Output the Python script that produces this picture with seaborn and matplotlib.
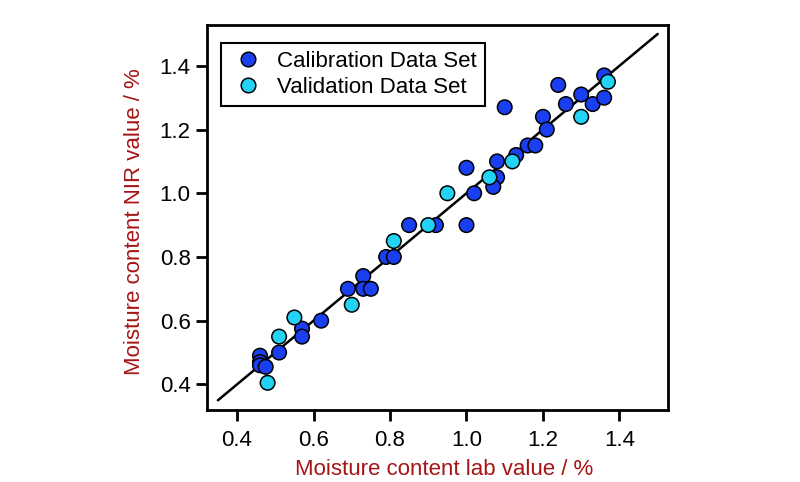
import matplotlib
matplotlib.use("Agg")
import matplotlib.pyplot as plt
import seaborn as sns
import pandas as pd

# Calibration data set
cal_lab = [1.36, 1.24, 1.30, 1.26, 1.33, 1.36, 1.10, 1.20, 1.21, 1.16, 1.18, 1.13,
           1.08, 1.00, 1.08, 1.07, 1.02, 0.85, 0.92, 1.00, 0.79, 0.81, 0.73, 0.69,
           0.73, 0.75, 0.62, 0.57, 0.57, 0.51, 0.46, 0.46, 0.46, 0.475]
cal_nir = [1.37, 1.34, 1.31, 1.28, 1.28, 1.30, 1.27, 1.24, 1.20, 1.15, 1.15, 1.12,
           1.10, 1.08, 1.05, 1.02, 1.00, 0.90, 0.90, 0.90, 0.80, 0.80, 0.74, 0.70,
           0.70, 0.70, 0.60, 0.575, 0.55, 0.50, 0.49, 0.47, 0.46, 0.455]
# Validation data set
val_lab = [1.37, 1.30, 1.12, 1.06, 0.95, 0.90, 0.81, 0.70, 0.55, 0.51, 0.48]
val_nir = [1.35, 1.24, 1.10, 1.05, 1.00, 0.90, 0.85, 0.65, 0.61, 0.55, 0.405]
# identity line
line_x = [0.35, 1.50]
line_y = [0.35, 1.50]

x_ticks = [0.4, 0.6, 0.8, 1.0, 1.2, 1.4]
y_ticks = [0.4, 0.6, 0.8, 1.0, 1.2, 1.4]

sns.set_style("white")
plt.rcParams['font.family'] = ['Liberation Sans', 'DejaVu Sans']
plt.rcParams['text.color'] = 'black'

cal_color = '#1a3ff0'
val_color = '#22d3f5'
label_color = '#a51515'

df = pd.concat([
    pd.DataFrame({'lab': cal_lab, 'nir': cal_nir, 'set': 'Calibration Data Set'}),
    pd.DataFrame({'lab': val_lab, 'nir': val_nir, 'set': 'Validation Data Set'}),
], ignore_index=True)

fig = plt.figure(figsize=(8, 4.82), dpi=100)
ax = fig.add_axes([0.259, 0.149, 0.576, 0.799])

sns.lineplot(x=line_x, y=line_y, ax=ax, color='black', linewidth=1.8, zorder=1)
sns.scatterplot(data=df, x='lab', y='nir', hue='set',
                palette={'Calibration Data Set': cal_color, 'Validation Data Set': val_color},
                s=110, edgecolor='black', linewidth=1.1, ax=ax, zorder=3)

ax.set_xlim(0.322, 1.527)
ax.set_ylim(0.319, 1.528)
ax.set_xticks(x_ticks)
ax.set_yticks(y_ticks)
ax.set_xticklabels([f"{t:.1f}" for t in x_ticks])
ax.set_yticklabels([f"{t:.1f}" for t in y_ticks])
ax.tick_params(axis='both', direction='out', length=8, width=2, labelsize=16,
               colors='black', left=True, bottom=True, pad=4)
ax.tick_params(axis='x', pad=6)
for sp in ax.spines.values():
    sp.set_linewidth(2)
    sp.set_color('black')

ax.set_xlabel('Moisture content lab value / %', fontsize=16, color=label_color)
ax.set_ylabel('Moisture content NIR value / %', fontsize=16, color=label_color)
ax.xaxis.label.set_va('center')
ax.yaxis.label.set_va('center')
ax.xaxis.set_label_coords(0.514, -0.155)
ax.yaxis.set_label_coords(-0.157, 0.49)

leg = ax.legend(loc='upper left', bbox_to_anchor=(0.03, 0.953), frameon=True,
                fancybox=False, fontsize=16, handletextpad=0.47, borderpad=0.35,
                labelspacing=0.24, markerscale=1.0, borderaxespad=0,
                handlelength=1.7)
leg.get_frame().set_edgecolor('black')
leg.get_frame().set_linewidth(1.5)
leg.get_frame().set_alpha(1)
for t in leg.get_texts():
    t.set_color('black')

fig.savefig('out.png', dpi=100)
